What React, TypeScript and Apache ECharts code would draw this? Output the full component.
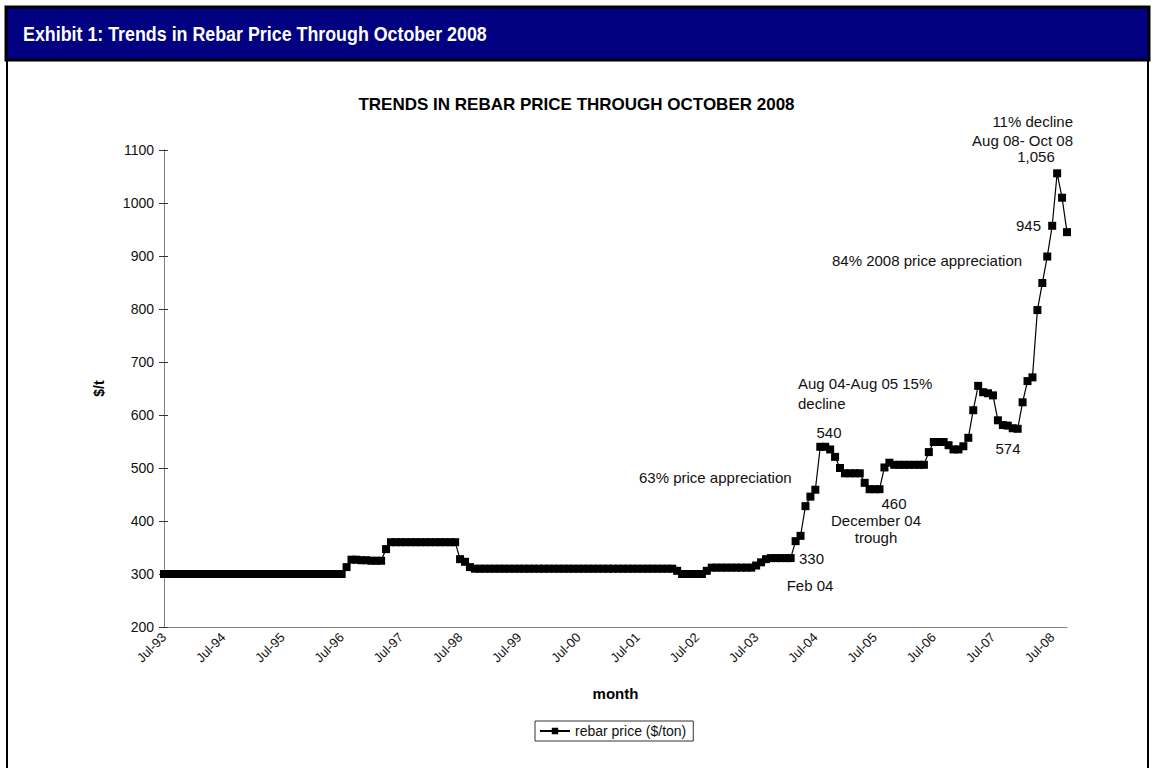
import React, { useEffect, useRef } from "react";
import * as echarts from "echarts";

// Month labels (Jul-93 .. Oct-08)
const MONTHS = ["Jan", "Feb", "Mar", "Apr", "May", "Jun", "Jul", "Aug", "Sep", "Oct", "Nov", "Dec"];
const START_YEAR = 1993;
const START_MONTH = 6; // Jul
const MONTH_COUNT = 184;

// Rebar price ($/ton), by calendar year
const p1993 = [300, 300, 300, 300, 300, 300];
const p1994 = [300, 300, 300, 300, 300, 300, 300, 300, 300, 300, 300, 300];
const p1995 = [300, 300, 300, 300, 300, 300, 300, 300, 300, 300, 300, 300];
const p1996 = [300, 300, 300, 300, 300, 300, 300, 313, 327, 327, 326, 326];
const p1997 = [325, 325, 325, 347, 360, 360, 360, 360, 360, 360, 360, 360];
const p1998 = [360, 360, 360, 360, 360, 360, 328, 323, 313, 310, 310, 310];
const p1999 = [310, 310, 310, 310, 310, 310, 310, 310, 310, 310, 310, 310];
const p2000 = [310, 310, 310, 310, 310, 310, 310, 310, 310, 310, 310, 310];
const p2001 = [310, 310, 310, 310, 310, 310, 310, 310, 310, 310, 310, 310];
const p2002 = [310, 310, 306, 300, 300, 300, 300, 300, 306, 312, 312, 312];
const p2003 = [312, 312, 312, 312, 312, 312, 316, 322, 328, 330, 330, 330];
const p2004 = [330, 330, 362, 372, 428, 446, 459, 540, 540, 535, 521, 500];
const p2005 = [490, 490, 490, 490, 472, 460, 460, 460, 501, 510, 506, 506];
const p2006 = [506, 506, 506, 506, 506, 530, 549, 549, 549, 543, 535, 535];
const p2007 = [541, 557, 609, 655, 643, 641, 637, 590, 581, 580, 575, 574];
const p2008 = [624, 664, 671, 798, 849, 899, 957, 1056, 1010, 945];

const prices = [
  ...p1993, ...p1994, ...p1995, ...p1996, ...p1997, ...p1998, ...p1999, ...p2000,
  ...p2001, ...p2002, ...p2003, ...p2004, ...p2005, ...p2006, ...p2007, ...p2008,
];

const categories: string[] = [];
for (let i = 0; i < MONTH_COUNT; i++) {
  const m = (START_MONTH + i) % 12;
  const y = START_YEAR + Math.floor((START_MONTH + i) / 12);
  categories.push(MONTHS[m] + "-" + String(y % 100).padStart(2, "0"));
}

const Y_MIN = 200;
const Y_MAX = 1100;
const Y_STEP = 100;

const FONT = "'Liberation Sans', Arial, Helvetica, sans-serif";

export default function App() {
  const ref = useRef<HTMLDivElement>(null);
  useEffect(() => {
    if (!ref.current) return;
    const chart = echarts.init(ref.current, null, { renderer: "svg" });
    const ann = (text: string, x: number, y: number, align: string = "left") => ({
      type: "text",
      x,
      y,
      silent: true,
      style: {
        text,
        fill: "#111",
        font: `15px ${FONT}`,
        textAlign: align,
        textVerticalAlign: "middle",
      },
    });
    chart.setOption({
      animation: false,
      backgroundColor: "#fff",
      title: {
        text: "TRENDS IN REBAR PRICE THROUGH OCTOBER 2008",
        left: "center",
        top: 91,
        textStyle: { fontFamily: FONT, fontWeight: "bold", fontSize: 17, color: "#000" },
      },
      grid: { left: 164, right: 86, top: 150, bottom: 141 },
      xAxis: {
        type: "category",
        data: categories,
        boundaryGap: false,
        axisLine: { lineStyle: { color: "#808080", width: 1 } },
        axisTick: { show: false },
        axisLabel: {
          interval: 11,
          rotate: 45,
          fontSize: 13,
          fontFamily: FONT,
          color: "#111",
          margin: 8,
        },
        name: "month",
        nameLocation: "middle",
        nameGap: 59,
        nameTextStyle: { fontFamily: FONT, fontWeight: "bold", fontSize: 15, color: "#000" },
      },
      yAxis: [
        {
          type: "value",
          min: Y_MIN,
          max: Y_MAX,
          interval: Y_STEP,
          axisLine: { show: true, lineStyle: { color: "#808080", width: 1 } },
          axisTick: { show: true, length: 5, lineStyle: { color: "#333" } },
          splitLine: { show: false },
          axisLabel: {
            fontSize: 14,
            fontFamily: FONT,
            color: "#111",
            margin: 10,
            formatter: (v: number) => String(v),
          },
          name: "$/t",
          nameLocation: "middle",
          nameGap: 58,
          nameRotate: 90,
          nameTextStyle: { fontFamily: FONT, fontWeight: "bold", fontSize: 14, color: "#000" },
        },
        {
          type: "value",
          position: "left",
          min: Y_MIN,
          max: Y_MAX,
          interval: Y_STEP,
          axisLine: { show: true, lineStyle: { color: "#808080", width: 1 } },
          axisTick: { show: true, inside: true, length: 4, lineStyle: { color: "#333" } },
          splitLine: { show: false },
          axisLabel: { show: false },
        },
      ],
      legend: {
        top: 721,
        left: 535,
        borderColor: "#333",
        borderWidth: 1,
        borderRadius: 0,
        padding: [3, 7, 3, 4],
        itemWidth: 30,
        itemHeight: 8,
        itemGap: 4,
        textStyle: { fontFamily: FONT, fontSize: 14, color: "#111" },
        data: ["rebar price ($/ton)"],
      },
      series: [
        {
          name: "rebar price ($/ton)",
          type: "line",
          data: prices,
          symbol: "rect",
          symbolSize: 8,
          showSymbol: true,
          showAllSymbol: true,
          itemStyle: { color: "#000" },
          lineStyle: { color: "#000", width: 1.2 },
        },
      ],
      graphic: [
        {
          type: "rect",
          shape: { x: 6, y: 7, width: 1143, height: 53 },
          style: { fill: "#000080", stroke: "#000", lineWidth: 3 },
          silent: true,
        },
        {
          type: "rect",
          shape: { x: 7, y: 60, width: 1141, height: 720 },
          style: { fill: "none", stroke: "#000", lineWidth: 2 },
          silent: true,
        },
        {
          type: "text",
          x: 23,
          y: 33,
          scaleX: 0.85,
          style: {
            text: "Exhibit 1: Trends in Rebar Price Through October 2008",
            fill: "#fff",
            font: "bold 21px 'Liberation Sans', Arial, sans-serif",
            textVerticalAlign: "middle",
          },
          silent: true,
        },
        ann("11% decline", 1073, 121, "right"),
        ann("Aug 08- Oct 08", 1073, 140, "right"),
        ann("1,056", 1036, 156, "center"),
        ann("945", 1041, 225, "right"),
        ann("84% 2008 price appreciation", 832, 260, "left"),
        ann("574", 1008, 448, "center"),
        ann("Aug 04-Aug 05 15%", 798, 383, "left"),
        ann("decline", 798, 403, "left"),
        ann("540", 829, 432, "center"),
        ann("63% price appreciation", 639, 477, "left"),
        ann("460", 894, 503, "center"),
        ann("December 04", 876, 520, "center"),
        ann("trough", 876, 537, "center"),
        ann("330", 799, 558, "left"),
        ann("Feb 04", 810, 585, "center"),
      ],
    });
    return () => chart.dispose();
  }, []);
  return (
    <div
      ref={ref}
      style={{ position: "absolute", left: 0, top: 0, width: 1153, height: 768, background: "#fff" }}
    />
  );
}
